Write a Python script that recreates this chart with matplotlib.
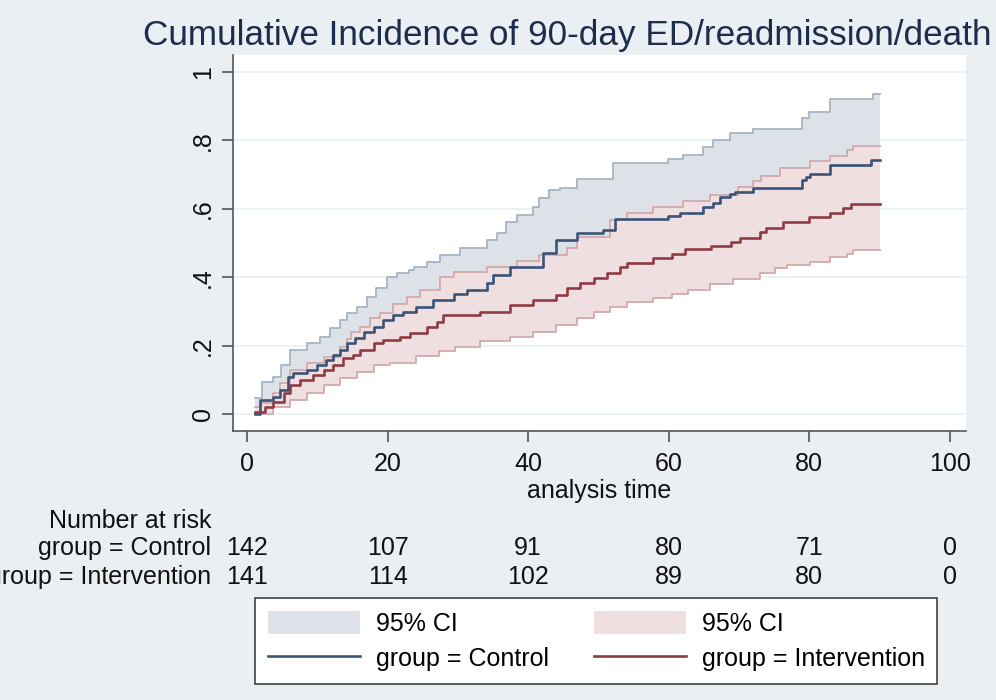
import numpy as np
import matplotlib
matplotlib.use("Agg")
import matplotlib.pyplot as plt
from matplotlib.patches import Patch
from matplotlib.lines import Line2D

plt.rcParams['font.family'] = ['Liberation Sans', 'DejaVu Sans']

# cumulative incidence step curves (time, value)
ctrl_t = [1.1, 1.85, 3.7, 4.7, 5.8, 6.6, 8.5, 9.9, 11.3, 12.3, 13.2, 14.2, 15.4, 16.6,
          18.0, 19.4, 20.8, 22.2, 24.1, 26.5, 29.4, 31.3, 34.1, 35.0, 37.4, 42.1, 44.0,
          46.9, 50.7, 52.4, 59.9, 61.6, 64.9, 66.3, 67.3, 68.7, 69.4, 72.0, 78.9, 79.6,
          80.1, 82.9, 88.8]
ctrl_v = [0.0, 0.041, 0.05, 0.07, 0.109, 0.119, 0.128, 0.143, 0.158, 0.172, 0.187, 0.207,
          0.221, 0.240, 0.255, 0.275, 0.289, 0.299, 0.314, 0.333, 0.351, 0.363, 0.382, 0.406,
          0.431, 0.470, 0.509, 0.530, 0.538, 0.569, 0.579, 0.587, 0.604, 0.618, 0.634, 0.643,
          0.650, 0.660, 0.684, 0.694, 0.701, 0.728, 0.743]

ctrl_up_t = [1.1, 2.1, 3.7, 4.9, 6.1, 8.5, 10.4, 11.8, 13.2, 14.2, 15.6, 17.0, 18.4, 19.9,
             21.3, 23.0, 23.7, 25.6, 27.5, 30.3, 34.1, 35.5, 36.9, 38.4, 40.7, 41.6, 43.0,
             44.5, 46.9, 52.1, 59.9, 62.1, 64.9, 66.3, 68.7, 72.0, 78.9, 79.9, 82.9, 89.1]
ctrl_up_v = [0.046, 0.092, 0.109, 0.143, 0.187, 0.207, 0.226, 0.250, 0.275, 0.294, 0.314,
             0.343, 0.367, 0.401, 0.413, 0.421, 0.431, 0.445, 0.465, 0.484, 0.509, 0.53,
             0.562, 0.582, 0.606, 0.631, 0.655, 0.660, 0.686, 0.733, 0.745, 0.757, 0.782,
             0.801, 0.821, 0.835, 0.865, 0.884, 0.920, 0.936]

# lower control band is hidden under the intervention band, rough guess
ctrl_lo_t = [1.1, 3.7, 6.1, 10.0, 15.0, 20.0, 25.0, 30.0, 35.0, 40.0, 45.0, 50.0, 55.0,
             60.0, 65.0, 70.0, 75.0, 80.0, 85.0, 88.8]
ctrl_lo_v = [0.0, 0.03, 0.07, 0.11, 0.15, 0.2, 0.23, 0.26, 0.3, 0.33, 0.38, 0.41, 0.44,
             0.45, 0.47, 0.5, 0.51, 0.54, 0.57, 0.58]

int_t = [1.1, 2.6, 3.7, 5.2, 6.1, 7.5, 9.4, 10.9, 12.3, 13.7, 15.1, 16.1, 18.0, 19.4,
         21.8, 23.2, 25.6, 27.0, 27.9, 33.2, 37.4, 40.7, 44.0, 45.5, 47.4, 49.3, 51.2,
         53.1, 54.0, 57.8, 60.4, 62.3, 66.0, 68.9, 70.1, 73.0, 73.9, 76.3, 79.9, 82.9,
         84.8, 86.0]
int_v = [0.007, 0.021, 0.036, 0.060, 0.085, 0.099, 0.114, 0.128, 0.143, 0.163, 0.172,
         0.187, 0.207, 0.216, 0.226, 0.236, 0.255, 0.27, 0.289, 0.299, 0.318, 0.333, 0.348,
         0.367, 0.382, 0.397, 0.411, 0.431, 0.442, 0.455, 0.468, 0.482, 0.491, 0.503,
         0.514, 0.533, 0.543, 0.562, 0.575, 0.587, 0.601, 0.613]

int_up_t = [1.1, 1.85, 3.7, 4.7, 6.1, 8.5, 10.9, 13.2, 14.2, 14.8, 16.1, 17.5, 18.9, 20.8,
            22.7, 24.6, 27.5, 29.4, 34.1, 38.4, 41.6, 45.5, 46.9, 51.6, 54.0, 57.8, 62.1,
            65.9, 69.9, 72.0, 73.2, 75.8, 80.1, 82.9, 85.3, 86.2]
int_up_v = [0.02, 0.031, 0.06, 0.09, 0.128, 0.148, 0.167, 0.197, 0.22, 0.24, 0.255, 0.28,
            0.294, 0.323, 0.343, 0.363, 0.402, 0.416, 0.431, 0.446, 0.465, 0.485, 0.518,
            0.567, 0.587, 0.604, 0.624, 0.640, 0.665, 0.68, 0.696, 0.719, 0.741, 0.754,
            0.772, 0.784]

int_lo_t = [1.1, 3.7, 6.1, 8.5, 10.9, 13.2, 15.6, 18.0, 20.3, 24.1, 27.3, 29.6, 33.2,
            37.4, 40.7, 44.0, 46.9, 49.3, 51.6, 54.0, 57.8, 60.4, 62.8, 65.9, 69.2, 73.0,
            75.1, 76.8, 80.1, 82.9, 85.3, 86.2]
int_lo_v = [0.0, 0.021, 0.041, 0.06, 0.085, 0.104, 0.124, 0.143, 0.15, 0.168, 0.183, 0.197,
            0.212, 0.226, 0.241, 0.260, 0.280, 0.299, 0.314, 0.328, 0.338, 0.351, 0.363,
            0.38, 0.395, 0.413, 0.426, 0.436, 0.445, 0.46, 0.468, 0.480]

t_end = 90

risk_times = [0, 20, 40, 60, 80, 100]
risk_ctrl = [142, 107, 91, 80, 71, 0]
risk_int = [141, 114, 102, 89, 80, 0]

bg = '#e9eff2'
blue_fill = '#dde2e9'
blue_edge = '#a7b4c4'
pink_fill = '#efdfe0'
pink_edge = '#d3a9ac'
blue_line = '#3a5478'
red_line = '#8e3c43'
txt = '#111111'
fs = 18


def step_at(ts, vs, grid):
    idx = np.searchsorted(ts, grid, side='right') - 1
    return np.asarray(vs)[np.clip(idx, 0, len(vs) - 1)]


def extend(ts, vs):
    return list(ts) + [t_end], list(vs) + [vs[-1]]


fig = plt.figure(figsize=(9.96, 7.0), dpi=100, facecolor=bg)
ax = fig.add_axes([0.2339, 0.3843, 0.736, 0.5371])
ax.set_facecolor('white')

# bands
g1 = np.unique(np.concatenate([ctrl_up_t, ctrl_lo_t, [t_end]]))
ax.fill_between(g1, step_at(ctrl_lo_t, ctrl_lo_v, g1), step_at(ctrl_up_t, ctrl_up_v, g1),
                step='post', color=blue_fill, lw=0, zorder=2)
x, y = extend(ctrl_up_t, ctrl_up_v)
ax.plot(x, y, drawstyle='steps-post', color=blue_edge, lw=1.3, zorder=3)

g2 = np.unique(np.concatenate([int_up_t, int_lo_t, [t_end]]))
ax.fill_between(g2, step_at(int_lo_t, int_lo_v, g2), step_at(int_up_t, int_up_v, g2),
                step='post', color=pink_fill, lw=0, zorder=4)
x, y = extend(int_up_t, int_up_v)
ax.plot(x, y, drawstyle='steps-post', color=pink_edge, lw=1.3, zorder=5)
x, y = extend(int_lo_t, int_lo_v)
ax.plot(x, y, drawstyle='steps-post', color=pink_edge, lw=1.3, zorder=5)

# estimates
x, y = extend(ctrl_t, ctrl_v)
ax.plot(x, y, drawstyle='steps-post', color=blue_line, lw=1.9, zorder=6)
x, y = extend(int_t, int_v)
ax.plot(x, y, drawstyle='steps-post', color=red_line, lw=1.9, zorder=6)

ax.set_xlim(-2, 102.3)
ax.set_ylim(-0.05, 1.05)
ax.set_xticks(risk_times)
ax.set_yticks([0, 0.2, 0.4, 0.6, 0.8, 1])
ax.set_yticklabels(['0', '.2', '.4', '.6', '.8', '1'], rotation=90, va='center')
ax.grid(axis='y', color='#e8f0f2', lw=1.2, zorder=1)
ax.set_axisbelow(True)
for s in ['top', 'right']:
    ax.spines[s].set_visible(False)
for s in ['left', 'bottom']:
    ax.spines[s].set_color('#555555')
    ax.spines[s].set_linewidth(1.2)
ax.tick_params(axis='both', direction='out', length=8, width=1.2, color='#555555',
               labelsize=fs, labelcolor=txt)
ax.tick_params(axis='y', pad=5)
ax.tick_params(axis='x', pad=7)
ax.set_xlabel('analysis time', fontsize=fs, color=txt, labelpad=2)

fig.text(0.570, 0.950, 'Cumulative Incidence of 90-day ED/readmission/death',
         ha='center', va='center', fontsize=25.3, color='#1d2d4b')

# number at risk table
fig.text(0.212, 1 - 521 / 700, 'Number at risk', ha='right', va='center', fontsize=fs,
         color=txt)
fig.text(0.212, 1 - 548 / 700, 'group = Control', ha='right', va='center', fontsize=fs,
         color=txt)
fig.text(0.212, 1 - 577 / 700, 'group = Intervention', ha='right', va='center',
         fontsize=fs, color=txt)
tr = matplotlib.transforms.blended_transform_factory(ax.transData, fig.transFigure)
for t, a, b in zip(risk_times, risk_ctrl, risk_int):
    ax.text(t, 1 - 548 / 700, str(a), transform=tr, ha='center', va='center', fontsize=fs,
            color=txt, clip_on=False)
    ax.text(t, 1 - 577 / 700, str(b), transform=tr, ha='center', va='center', fontsize=fs,
            color=txt, clip_on=False)

handles = [Patch(facecolor=blue_fill, edgecolor='none'),
           Line2D([], [], color=blue_line, lw=1.9),
           Patch(facecolor=pink_fill, edgecolor='none'),
           Line2D([], [], color=red_line, lw=1.9)]
labels = ['95% CI', 'group = Control', '95% CI', 'group = Intervention']
leg = fig.legend(handles, labels, ncol=2, loc='center',
                 bbox_to_anchor=(0.5985, 0.0843),
                 fontsize=fs, frameon=True, fancybox=False, framealpha=1,
                 edgecolor='#404040', facecolor='white', handlelength=3.68,
                 handleheight=1.04, handletextpad=0.64, columnspacing=1.8,
                 labelspacing=0.4, borderpad=0.5)
leg.get_frame().set_linewidth(1.2)

fig.savefig('out.png', dpi=100, facecolor=bg)
